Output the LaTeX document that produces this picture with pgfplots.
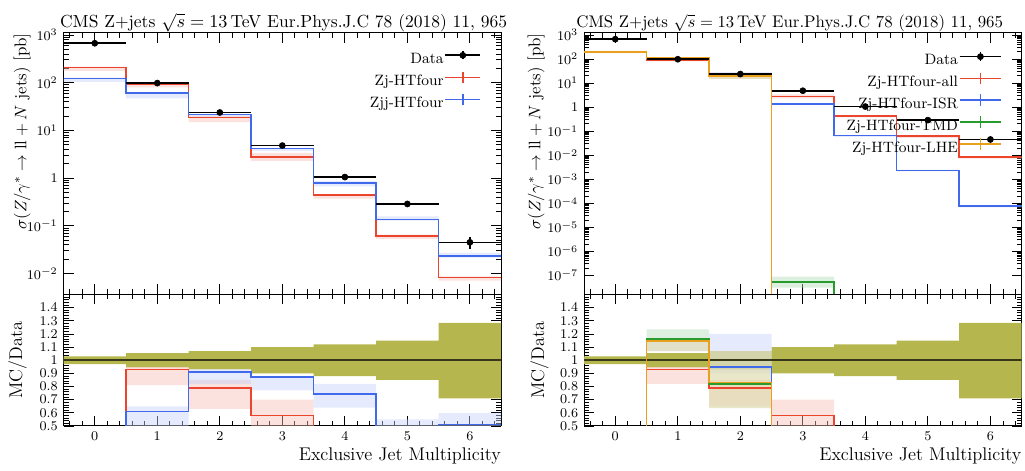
\documentclass[border=0pt]{standalone}
\usepackage{pgfplots}
\pgfplotsset{compat=1.18}
\usepackage{pgfplotstable}

\definecolor{cred}{RGB}{235,70,45}
\definecolor{cblue}{RGB}{65,105,235}
\definecolor{cgreen}{RGB}{40,155,45}
\definecolor{corange}{RGB}{232,160,30}
\definecolor{colive}{RGB}{182,182,78}
\definecolor{cline}{RGB}{55,55,25}

% data points (bin centre, value, x half width, y error)
\pgfplotstableread{
x y ex ey
0 670 0.5 20
1 98 0.5 5.4
2 23.7 0.5 1.7
3 4.8 0.5 0.48
4 1.05 0.5 0.126
5 0.287 0.5 0.043
6 0.045 0.5 0.0126
}\dataT

% MC histograms: left bin edges, last edge repeated
\pgfplotstableread{
x r b
-0.5 207 122
0.5 91 60
1.5 18.7 21.6
2.5 2.78 4.2
3.5 0.436 0.78
4.5 0.062 0.135
5.5 0.0083 0.023
6.5 0.0083 0.023
}\mcL

\pgfplotstableread{
x r b
-0.5 0.31 0.18
0.5 0.93 0.61
1.5 0.79 0.91
2.5 0.58 0.875
3.5 0.415 0.743
4.5 0.216 0.47
5.5 0.184 0.511
6.5 0.184 0.511
}\ratL

\pgfplotstableread{
x r b g o
-0.5 207 205 200 200
0.5 91 113 114 112
1.5 18.7 22.5 19.4 19.7
2.5 2.78 1.33 5.2e-8 1e-12
3.5 0.436 0.065 1e-12 1e-12
4.5 0.062 0.0023 1e-12 1e-12
5.5 0.0083 7.5e-5 1e-12 1e-12
6.5 0.0083 7.5e-5 1e-12 1e-12
}\mcR

\pgfplotstableread{
x r b g o
-0.5 0.31 0.306 0.30 0.30
0.5 0.93 1.153 1.163 1.145
1.5 0.79 0.95 0.82 0.83
2.5 0.58 0.28 0 0
3.5 0.415 0.062 0 0
4.5 0.216 0.008 0 0
5.5 0.184 0.0017 0 0
6.5 0.184 0.0017 0 0
}\ratR

% uncertainty bands: upper edges left to right, then lower edges right to left
\pgfplotstableread{
x r b
-0.5 217 128
0.5 93.1 63.7
1.5 20.1 22.0
2.5 3.36 4.22
3.5 0.46 0.861
4.5 0.065 0.158
5.5 0.0087 0.027
6.5 0.0087 0.027
6.5 0.0071 0.0216
5.5 0.053 0.129
4.5 0.37 0.672
3.5 2.3 3.7
2.5 14.9 19.4
1.5 79.4 47
0.5 176 104
-0.5 176 104
}\pLT

\pgfplotstableread{
x r b d
-0.5 0.32 0.19 1.03
0.5 0.95 0.65 1.055
1.5 0.85 0.93 1.07
2.5 0.70 0.88 1.10
3.5 0.44 0.82 1.12
4.5 0.227 0.55 1.15
5.5 0.193 0.60 1.285
6.5 0.193 0.60 1.285
6.5 0.158 0.48 0.71
5.5 0.185 0.45 0.85
4.5 0.35 0.64 0.88
3.5 0.48 0.77 0.90
2.5 0.63 0.82 0.93
1.5 0.81 0.48 0.945
0.5 0.26 0.155 0.97
-0.5 0.26 0.155 0.97
}\pLR

\pgfplotstableread{
x r b g o
-0.5 217 215 210 210
0.5 93 114 121 114
1.5 20.1 28.4 25.4 25.4
2.5 3.36 1.45 8.9e-8 1e-12
3.5 0.46 0.07 1e-12 1e-12
4.5 0.065 0.0025 1e-12 1e-12
5.5 0.0087 8.2e-5 1e-12 1e-12
6.5 0.0087 8.2e-5 1e-12 1e-12
6.5 0.0071 6.8e-5 1e-12 1e-12
5.5 0.053 0.0021 1e-12 1e-12
4.5 0.37 0.058 1e-12 1e-12
3.5 2.3 1.2 3.1e-8 1e-12
2.5 15.4 21.3 15.0 15.0
1.5 80 105 105 105
0.5 176 190 185 185
-0.5 176 190 185 185
}\pRT

\pgfplotstableread{
x r b g o d
-0.5 0.32 0.32 0.31 0.31 1.03
0.5 0.95 1.16 1.235 1.16 1.055
1.5 0.85 1.20 1.07 1.07 1.07
2.5 0.70 0.30 0 0 1.10
3.5 0.44 0.067 0 0 1.12
4.5 0.227 0.009 0 0 1.15
5.5 0.193 0.0019 0 0 1.285
6.5 0.193 0.0019 0 0 1.285
6.5 0.158 0.0015 0 0 0.71
5.5 0.185 0.007 0 0 0.85
4.5 0.35 0.055 0 0 0.88
3.5 0.48 0.25 0 0 0.90
2.5 0.65 0.90 0.635 0.635 0.93
1.5 0.82 1.07 1.07 1.07 0.945
0.5 0.26 0.28 0.28 0.28 0.97
-0.5 0.26 0.28 0.28 0.28 0.97
}\pRR

\newcommand{\ttl}{CMS Z+jets $\sqrt{s}=13\,$TeV Eur.Phys.J.C 78 (2018) 11, 965}
\newcommand{\ylab}{$\sigma(Z/\gamma^{*}\rightarrow \mathrm{ll}+N\ \mathrm{jets})$ [pb]}
\newcommand{\lfont}{\fontsize{11}{13}\selectfont}
\newcommand{\yfont}{\fontsize{10.2}{12}\selectfont}

\begin{document}
\begin{tikzpicture}
\useasboundingbox (0pt,0pt) rectangle (615pt,282.6pt);

% ================= LEFT TOP =================
\begin{axis}[at={(38.1pt,105.9pt)}, anchor=south west,
  scale only axis, width=262.6pt, height=156.9pt,
  xmin=-0.5, xmax=6.5, xtick={0,1,2,3,4,5,6}, minor xtick={-0.4,-0.2,...,6.4},
  xticklabels={},
  tick align=inside, xtick pos=both, ytick pos=both,
  major tick length=6pt, minor tick length=3pt,
  tick style={black, line width=0.5pt}, axis line style={line width=0.6pt},
  tick label style={font=\fontsize{8}{9}\selectfont},
  ymode=log, ymin=0.00363, ymax=1100,
  ytick={0.01,0.1,1,10,100,1000},
  yticklabels={$10^{-2}$,$10^{-1}$,$1$,$10^{1}$,$10^{2}$,$10^{3}$},
  title={\ttl}, title style={at={(axis description cs:0.503,1.03)}, anchor=base, inner sep=0pt, yshift=-7.6pt, font=\fontsize{10.5}{12}\selectfont},
  ylabel={\ylab}, ylabel style={at={(axis description cs:-0.0743,1)}, anchor=south east, inner sep=0pt, font=\yfont},
  legend cell align=right, legend plot pos=right,
  legend style={at={(axis description cs:0.955,0.935)}, anchor=north east, draw=none, fill=none,
    font=\fontsize{9}{11}\selectfont, inner sep=0pt, row sep=2.3pt, nodes={inner sep=0.5pt}},
]
\addplot[const plot mark left, no marks, draw=none, fill=cred!35, fill opacity=0.45, forget plot] table[x=x,y=r]{\pLT};
\addplot[const plot mark left, no marks, draw=none, fill=cblue!30, fill opacity=0.45, forget plot] table[x=x,y=b]{\pLT};
\addplot[const plot mark left, no marks, line width=1pt, cred, forget plot] table[x=x,y=r]{\mcL};
\addplot[const plot mark left, no marks, line width=1pt, cblue, forget plot] table[x=x,y=b]{\mcL};
\addplot[only marks, mark=*, mark size=1.8pt, black, forget plot,
  error bars/.cd, x dir=both, x explicit, y dir=both, y explicit,
  error bar style={line width=1pt, black}, error mark=none]
  table[x=x,y=y,x error=ex,y error=ey]{\dataT};
\addlegendimage{legend image code/.code={\draw[black,line width=1pt] (2pt,2.6pt)--(23pt,2.6pt); \draw[black,line width=1pt] (12.5pt,0.1pt)--(12.5pt,5.1pt); \fill[black] (12.5pt,2.6pt) circle (1.8pt);}}
\addlegendentry{Data}
\addlegendimage{legend image code/.code={\draw[cred,line width=1pt] (2pt,2.6pt)--(23pt,2.6pt); \draw[cred,line width=1pt] (12.5pt,-0.9pt)--(12.5pt,6.1pt);}}
\addlegendentry{Zj-HTfour}
\addlegendimage{legend image code/.code={\draw[cblue,line width=1pt] (2pt,2.6pt)--(23pt,2.6pt); \draw[cblue,line width=1pt] (12.5pt,-0.9pt)--(12.5pt,6.1pt);}}
\addlegendentry{Zjj-HTfour}
\end{axis}

% ================= LEFT RATIO =================
\begin{axis}[at={(38.1pt,27pt)}, anchor=south west,
  scale only axis, width=262.6pt, height=78.9pt,
  xmin=-0.5, xmax=6.5, xtick={0,1,2,3,4,5,6}, minor xtick={-0.4,-0.2,...,6.4},
  tick align=inside, xtick pos=both, ytick pos=both,
  major tick length=6pt, minor tick length=3pt,
  tick style={black, line width=0.5pt}, axis line style={line width=0.6pt},
  tick label style={font=\fontsize{8}{9}\selectfont},
  ymin=0.5, ymax=1.5,
  ytick={0.5,0.6,0.7,0.8,0.9,1,1.1,1.2,1.3,1.4},
  minor ytick={0.52,0.54,...,1.5},
  ylabel={MC/Data}, ylabel style={at={(axis description cs:-0.0834,0.5)}, anchor=south, inner sep=0pt, font=\lfont},
  xlabel={Exclusive Jet Multiplicity},
  xlabel style={at={(axis description cs:1,-0.259)}, anchor=base east, inner sep=0pt, font=\lfont},
]
\addplot[const plot mark left, no marks, draw=none, fill=colive, forget plot] table[x=x,y=d]{\pLR};
\addplot[const plot mark left, no marks, draw=none, fill=cred!35, fill opacity=0.45, forget plot] table[x=x,y=r]{\pLR};
\addplot[const plot mark left, no marks, draw=none, fill=cblue!30, fill opacity=0.45, forget plot] table[x=x,y=b]{\pLR};
\addplot[cline, line width=1pt, forget plot] coordinates {(-0.5,1) (6.5,1)};
\addplot[const plot mark left, no marks, line width=1pt, cred, forget plot] table[x=x,y=r]{\ratL};
\addplot[const plot mark left, no marks, line width=1pt, cblue, forget plot] table[x=x,y=b]{\ratL};
\end{axis}

% ================= RIGHT TOP =================
\begin{axis}[at={(350.4pt,105.9pt)}, anchor=south west,
  scale only axis, width=262.6pt, height=156.9pt,
  xmin=-0.5, xmax=6.5, xtick={0,1,2,3,4,5,6}, minor xtick={-0.4,-0.2,...,6.4},
  xticklabels={},
  tick align=inside, xtick pos=both, ytick pos=both,
  major tick length=6pt, minor tick length=3pt,
  tick style={black, line width=0.5pt}, axis line style={line width=0.6pt},
  tick label style={font=\fontsize{8}{9}\selectfont},
  ymode=log, ymin=1.6e-8, ymax=1210,
  ytick={1e-7,1e-6,1e-5,1e-4,1e-3,1e-2,1e-1,1,10,100,1000},
  yticklabels={$10^{-7}$,$10^{-6}$,$10^{-5}$,$10^{-4}$,$10^{-3}$,$10^{-2}$,$10^{-1}$,$1$,$10^{1}$,$10^{2}$,$10^{3}$},
  title={\ttl}, title style={at={(axis description cs:0.47,1.03)}, anchor=base, inner sep=0pt, yshift=-7.6pt, font=\fontsize{10.1}{12}\selectfont},
  ylabel={\ylab}, ylabel style={at={(axis description cs:-0.089,1)}, anchor=south east, inner sep=0pt, font=\yfont},
  legend cell align=right, legend plot pos=right,
  legend style={at={(axis description cs:0.956,0.93)}, anchor=north east, draw=none, fill=none,
    font=\fontsize{9}{11}\selectfont, inner sep=0pt, row sep=2.1pt, nodes={inner sep=0.5pt}},
]
\addplot[const plot mark left, no marks, draw=none, fill=cred!35, fill opacity=0.45, forget plot] table[x=x,y=r]{\pRT};
\addplot[const plot mark left, no marks, draw=none, fill=cblue!30, fill opacity=0.45, forget plot] table[x=x,y=b]{\pRT};
\addplot[const plot mark left, no marks, draw=none, fill=cgreen!35, fill opacity=0.45, forget plot] table[x=x,y=g]{\pRT};
\addplot[const plot mark left, no marks, draw=none, fill=corange!35, fill opacity=0.45, forget plot] table[x=x,y=o]{\pRT};
\addplot[const plot mark left, no marks, line width=1pt, cred, forget plot] table[x=x,y=r]{\mcR};
\addplot[const plot mark left, no marks, line width=1pt, cblue, forget plot] table[x=x,y=b]{\mcR};
\addplot[const plot mark left, no marks, line width=1pt, cgreen, forget plot] table[x=x,y=g]{\mcR};
\addplot[const plot mark left, no marks, line width=1pt, corange, forget plot] table[x=x,y=o]{\mcR};
\addplot[only marks, mark=*, mark size=1.8pt, black, forget plot,
  error bars/.cd, x dir=both, x explicit, y dir=both, y explicit,
  error bar style={line width=1pt, black}, error mark=none]
  table[x=x,y=y,x error=ex,y error=ey]{\dataT};
\addlegendimage{legend image code/.code={\draw[black,line width=1pt] (2pt,2.6pt)--(27pt,2.6pt); \draw[black,line width=1pt] (14.5pt,0.1pt)--(14.5pt,5.1pt); \fill[black] (14.5pt,2.6pt) circle (1.8pt);}}
\addlegendentry{Data}
\addlegendimage{legend image code/.code={\draw[cred,line width=1pt] (2pt,2.6pt)--(27pt,2.6pt); \draw[cred,line width=1pt] (14.5pt,-0.9pt)--(14.5pt,6.1pt);}}
\addlegendentry{Zj-HTfour-all}
\addlegendimage{legend image code/.code={\draw[cblue,line width=1pt] (2pt,2.6pt)--(27pt,2.6pt); \draw[cblue,line width=1pt] (14.5pt,-0.9pt)--(14.5pt,6.1pt);}}
\addlegendentry{Zj-HTfour-ISR}
\addlegendimage{legend image code/.code={\draw[cgreen,line width=1pt] (2pt,2.6pt)--(27pt,2.6pt); \draw[cgreen,line width=1pt] (14.5pt,-0.9pt)--(14.5pt,6.1pt);}}
\addlegendentry{Zj-HTfour-TMD}
\addlegendimage{legend image code/.code={\draw[corange,line width=1pt] (2pt,2.6pt)--(27pt,2.6pt); \draw[corange,line width=1pt] (14.5pt,-0.9pt)--(14.5pt,6.1pt);}}
\addlegendentry{Zj-HTfour-LHE}
\end{axis}

% ================= RIGHT RATIO =================
\begin{axis}[at={(350.4pt,27pt)}, anchor=south west,
  scale only axis, width=262.6pt, height=78.9pt,
  xmin=-0.5, xmax=6.5, xtick={0,1,2,3,4,5,6}, minor xtick={-0.4,-0.2,...,6.4},
  tick align=inside, xtick pos=both, ytick pos=both,
  major tick length=6pt, minor tick length=3pt,
  tick style={black, line width=0.5pt}, axis line style={line width=0.6pt},
  tick label style={font=\fontsize{8}{9}\selectfont},
  ymin=0.5, ymax=1.5,
  ytick={0.5,0.6,0.7,0.8,0.9,1,1.1,1.2,1.3,1.4},
  minor ytick={0.52,0.54,...,1.5},
  ylabel={MC/Data}, ylabel style={at={(axis description cs:-0.08,0.5)}, anchor=south, inner sep=0pt, font=\lfont},
  xlabel={Exclusive Jet Multiplicity},
  xlabel style={at={(axis description cs:1,-0.259)}, anchor=base east, inner sep=0pt, font=\lfont},
]
\addplot[const plot mark left, no marks, draw=none, fill=colive, forget plot] table[x=x,y=d]{\pRR};
\addplot[const plot mark left, no marks, draw=none, fill=cred!35, fill opacity=0.45, forget plot] table[x=x,y=r]{\pRR};
\addplot[const plot mark left, no marks, draw=none, fill=cblue!30, fill opacity=0.45, forget plot] table[x=x,y=b]{\pRR};
\addplot[const plot mark left, no marks, draw=none, fill=cgreen!35, fill opacity=0.45, forget plot] table[x=x,y=g]{\pRR};
\addplot[const plot mark left, no marks, draw=none, fill=corange!35, fill opacity=0.45, forget plot] table[x=x,y=o]{\pRR};
\addplot[cline, line width=1pt, forget plot] coordinates {(-0.5,1) (6.5,1)};
\addplot[const plot mark left, no marks, line width=1pt, cred, forget plot] table[x=x,y=r]{\ratR};
\addplot[const plot mark left, no marks, line width=1pt, cblue, forget plot] table[x=x,y=b]{\ratR};
\addplot[const plot mark left, no marks, line width=1pt, cgreen, forget plot] table[x=x,y=g]{\ratR};
\addplot[const plot mark left, no marks, line width=1pt, corange, forget plot] table[x=x,y=o]{\ratR};
\end{axis}
\end{tikzpicture}
\end{document}
